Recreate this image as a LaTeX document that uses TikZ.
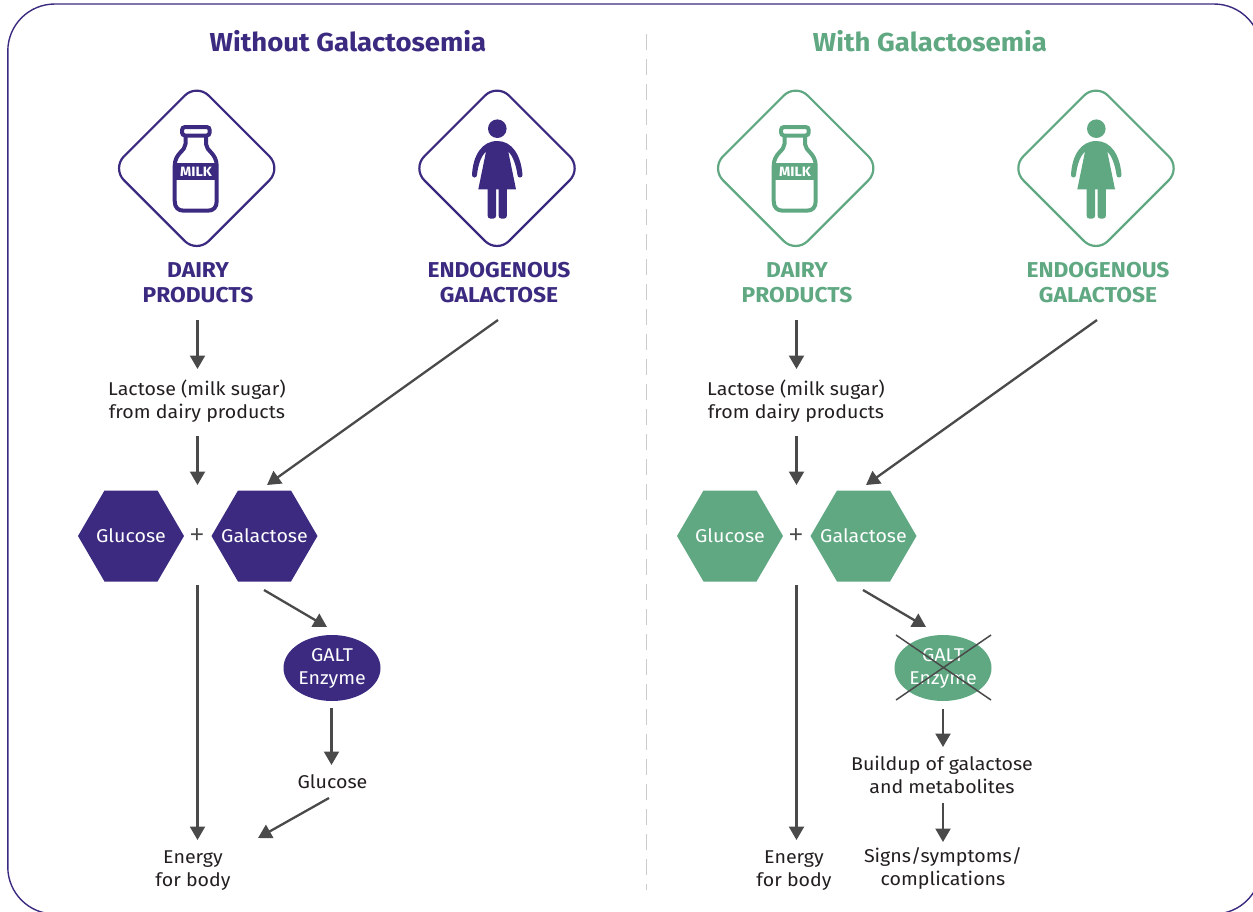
\documentclass[tikz,border=0pt]{standalone}
\usepackage{fontspec}
\setmainfont[FakeStretch=1.06]{Fira Sans}
\newfontfamily\plusfont{Noto Sans}
\usetikzlibrary{arrows.meta,shapes.geometric}
\definecolor{purp}{HTML}{3B2A80}
\definecolor{gren}{HTML}{5FA882}
\definecolor{arr}{HTML}{4A4A4A}
\definecolor{txt}{HTML}{231F20}
\newcommand{\fs}[2]{\fontsize{#1}{#2}\selectfont}
\tikzset{
  flow/.style={draw=arr,line width=2.3pt,-{Triangle[length=13.5pt,width=15pt]}},
  lab/.style={align=center,text=txt,font=\fs{18.5}{23},inner sep=0pt},
  head/.style={font=\fs{21.5}{25}\bfseries,align=center,inner sep=0pt},
  hexa/.style={font=\fs{18.5}{23},text=white,inner sep=0pt},
  title/.style={font=\fs{26}{30}\bfseries,inner sep=0pt},
  enzyme/.style={ellipse,minimum width=97pt,minimum height=66pt,inner sep=0pt,align=center,font=\fs{18.5}{23},text=white}
}
\newcommand{\hexagon}[2]{% cx, col
  \fill[#2] (#1-53,536) -- (#1-26.5,490.5) -- (#1+26.5,490.5) -- (#1+53,536) -- (#1+26.5,581.5) -- (#1-26.5,581.5) -- cycle;
}
\newcommand{\panel}[2]{% dx, colour
\begin{scope}[xshift=#1pt]
  % diamonds
  \draw[#2,line width=2.2pt,rounded corners=17pt] (196.7,83.6) -- (281.4,168.3) -- (196.7,253) -- (112,168.3) -- cycle;
  \draw[#2,line width=2.2pt,rounded corners=17pt] (497,83.6) -- (581.7,168.3) -- (497,253) -- (412.3,168.3) -- cycle;
  % bottle
  \draw[#2,line width=4pt,rounded corners=3pt] (182,127) rectangle (209.7,135.5);
  \draw[#2,line width=4pt,line join=round]
    (185.5,136) -- (185.5,144) .. controls (185.5,151) and (174.7,153) .. (174.7,166)
    -- (174.7,201) .. controls (174.7,207.5) and (178,210.7) .. (184,210.7)
    -- (207.5,210.7) .. controls (213.5,210.7) and (216.7,207.5) .. (216.7,201)
    -- (216.7,166) .. controls (216.7,153) and (206,151) .. (206,144) -- (206,136);
  \fill[#2] (174,163.3) rectangle (217.5,179.5);
  \node[font=\fs{13.5}{13.5}\bfseries,text=white,inner sep=0pt] (milk#1) at (196,171.5) {MILK};
  % woman
  \fill[#2] (497.3,128.7) circle (9.3);
  \fill[#2] (472,175) .. controls (473,155) and (482,141) .. (497.3,141)
     .. controls (512,141) and (521,155) .. (522.5,175)
     arc (0:180:2.5) .. controls (516,165) and (513,156) .. (508.3,151.7)
     -- (516,189.3) -- (478.3,189.3) -- (486,151.7)
     .. controls (481,156) and (478,165) .. (477,175) arc (0:180:2.5) -- cycle;
  \fill[#2,rounded corners=2.5pt] (487.7,186) -- (496,186) -- (496,218.5) -- (487.7,218.5) -- cycle;
  \fill[#2,rounded corners=2.5pt] (498.7,186) -- (506.8,186) -- (506.8,218.5) -- (498.7,218.5) -- cycle;
  % headings
  \node[head,text=#2] (da#1) at (198,282.5) {DAIRY\\PRODUCTS};
  \node[head,text=#2] (en#1) at (499,282.5) {ENDOGENOUS\\GALACTOSE};
  \node[lab] (la#1) at (197,401.5) {Lactose (milk sugar)\\from dairy products};
  % hexagons
  \hexagon{131}{#2}
  \hexagon{264.5}{#2}
  \node[hexa] (gl#1) at (131,536) {Glucose};
  \node[hexa] (ga#1) at (264.5,536) {Galactose};
  \node[inner sep=0pt,font=\plusfont\fs{25}{25},text=arr] (pl#1) at (197,536.5) {+};
  % arrows
  \coordinate (a1#1) at (197.5,320); \coordinate (a2#1) at (197.5,369);
  \coordinate (a3#1) at (197.5,436); \coordinate (a4#1) at (197.5,485);
  \coordinate (a5#1) at (498,320); \coordinate (a6#1) at (267,485);
  \coordinate (a7#1) at (197.5,585); \coordinate (a8#1) at (197.5,840);
  \coordinate (a9#1) at (264,590); \coordinate (a10#1) at (327,627);
  \draw[flow] (a1#1) -- (a2#1);
  \draw[flow] (a3#1) -- (a4#1);
  \draw[flow] (a5#1) -- (a6#1);
  \draw[flow] (a7#1) -- (a8#1);
  \draw[flow] (a9#1) -- (a10#1);
\end{scope}}
\begin{document}
\begin{tikzpicture}[x=1pt,y=-1pt]
\useasboundingbox (0,0) rectangle (1253,911);
\begin{scope}
\clip (0,0) rectangle (1253,911);
\draw[purp,line width=1.4pt,rounded corners=47pt] (7.8,4) rectangle (1261,914);
\end{scope}
\draw[gray!40,line width=1pt,dash pattern=on 15.5pt off 9.5pt] (646,34) -- (646,890);
\node[title,text=purp] (t1) at (348,41) {Without Galactosemia};
\node[title,text=gren] (t2) at (930,41) {With Galactosemia};
\panel{0}{purp}
\panel{599}{gren}
% left tail
\node[fill=purp,enzyme] (ga) at (332,668) {GALT\\Enzyme};
\coordinate (b1) at (331.5,708); \coordinate (b2) at (331.5,765);
\draw[flow] (b1) -- (b2);
\node[lab] (gc) at (332.5,781.5) {Glucose};
\coordinate (b3) at (329,798); \coordinate (b4) at (258,838);
\draw[flow] (b3) -- (b4);
\node[lab] (en) at (193,871) {Energy\\for body};
% right tail
\node[fill=gren,enzyme] (gb) at (943,668) {GALT\\Enzyme};
\coordinate (x1) at (896,635); \coordinate (x2) at (991,700);
\coordinate (x3) at (991,635); \coordinate (x4) at (896,700);
\draw[arr,line width=1.5pt] (x1) -- (x2) (x3) -- (x4);
\coordinate (c1) at (943,709); \coordinate (c2) at (943,747);
\draw[flow] (c1) -- (c2);
\node[lab] (bu) at (942,774.5) {Buildup of galactose\\and metabolites};
\coordinate (c3) at (943,803); \coordinate (c4) at (943,842);
\draw[flow] (c3) -- (c4);
\node[lab] (en2) at (794,871) {Energy\\for body};
\node[lab] (si) at (943,868) {Signs/symptoms/\\complications};
\end{tikzpicture}
\end{document}
